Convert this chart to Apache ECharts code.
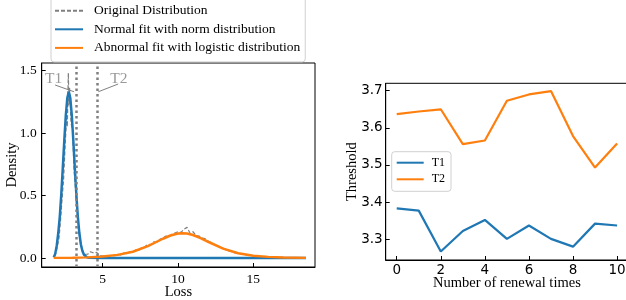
<!DOCTYPE html>
<html>
<head>
<meta charset="utf-8">
<script src="https://cdn.jsdelivr.net/npm/echarts@6/dist/echarts.min.js"></script>
<style>
  html, body { margin: 0; padding: 0; background: #fff; }
  #chart { width: 626px; height: 300px; }
</style>
</head>
<body>
<div id="chart"></div>
<script>
// left panel: loss distributions
var origX = [1.8, 1.9, 2.0, 2.1, 2.2, 2.3, 2.4, 2.5, 2.6, 2.65, 2.72, 2.76, 2.8, 2.9, 3.0, 3.1, 3.2, 3.3, 3.4, 3.5, 3.6, 3.7, 3.8, 3.9, 4.0,
  4.2, 4.4, 4.6, 4.8, 5.0, 5.2, 5.4, 5.6, 5.8, 6.0, 6.2, 6.4, 6.6, 6.8, 7.0, 7.2, 7.4, 7.6, 7.8, 8.0, 8.2, 8.4, 8.6, 8.8, 9.0,
  9.2, 9.4, 9.6, 9.8, 10.0, 10.2, 10.4, 10.6, 10.8, 11.0, 11.2, 11.4, 11.6, 11.8, 12.0, 12.2, 12.4, 12.6, 12.8, 13.0, 13.2,
  13.4, 13.6, 13.8, 14.0, 14.2, 14.4, 14.6, 14.8, 15.0, 15.5, 16.0, 16.5, 17.0, 18.0, 18.5];
var origY = [0.01, 0.04, 0.10, 0.16, 0.30, 0.47, 0.62, 0.88, 1.12, 1.05, 1.48, 1.22, 1.36, 1.08, 1.02, 0.70, 0.55, 0.36, 0.22, 0.13, 0.07, 0.05, 0.03, 0.045, 0.03,
  0.05, 0.04, 0.045, 0.02, 0.015, 0.02, 0.012, 0.02, 0.018, 0.03, 0.025, 0.04, 0.035, 0.05, 0.045, 0.065, 0.06, 0.085, 0.09, 0.11, 0.105, 0.13, 0.125, 0.15, 0.16,
  0.175, 0.17, 0.19, 0.2, 0.21, 0.205, 0.23, 0.245, 0.2, 0.21, 0.18, 0.175, 0.16, 0.155, 0.135, 0.125, 0.11, 0.1, 0.085, 0.08, 0.065,
  0.055, 0.05, 0.04, 0.04, 0.03, 0.032, 0.02, 0.025, 0.015, 0.012, 0.008, 0.006, 0.004, 0.002, 0.001];

var normX = [1.75, 1.85, 1.95, 2.05, 2.15, 2.25, 2.35, 2.45, 2.55, 2.65, 2.75, 2.85, 2.95, 3.05, 3.15, 3.25, 3.35, 3.45, 3.55, 3.65, 3.75, 3.85, 3.95, 4.1, 5, 10, 15, 18.5];
var normY = [0.005, 0.035, 0.1, 0.2, 0.33, 0.51, 0.72, 0.94, 1.14, 1.28, 1.33, 1.28, 1.14, 0.94, 0.72, 0.51, 0.33, 0.2, 0.11, 0.058, 0.028, 0.012, 0.005, 0.001, 0, 0, 0, 0];

var logiX = [1.75, 3, 4, 5, 6, 7, 8, 9, 9.5, 10, 10.3, 10.6, 11, 11.5, 12, 13, 14, 15, 16, 17, 18.5];
var logiY = [0.001, 0.002, 0.005, 0.012, 0.025, 0.05, 0.095, 0.154, 0.18, 0.196, 0.198, 0.196, 0.184, 0.159, 0.13, 0.075, 0.038, 0.018, 0.009, 0.004, 0.001];

var thresholdNames = ['T1', 'T2'];
var thresholdLoss = [3.27, 4.67];
var labelPos = [[1.74, 1.436], [6.08, 1.436]];
var pointerFrom = [[1.84, 1.384], [6.03, 1.392]];
var pointerTo = [[3.1, 1.33], [4.71, 1.33]];

// right panel: thresholds per renewal
var renewalTimes = [0, 1, 2, 3, 4, 5, 6, 7, 8, 9, 10];
var t1Values = [3.383, 3.377, 3.267, 3.322, 3.352, 3.301, 3.337, 3.301, 3.280, 3.342, 3.337];
var t2Values = [3.637, 3.644, 3.650, 3.556, 3.566, 3.673, 3.690, 3.699, 3.578, 3.493, 3.558];

var lossTicks = [5, 10, 15];
var densityTicks = [0, 0.5, 1.0, 1.5];
var renewalTicks = [0, 2, 4, 6, 8, 10];
var thresholdTicks = [3.3, 3.4, 3.5, 3.6, 3.7];

var SERIF = 'Liberation Serif';
var SANS = 'DejaVu Sans';
var BLUE = '#1f77b4', ORANGE = '#ff7f0e', GREY = '#808080';

function zip(xs, ys) {
  return xs.map(function (x, i) { return [x, ys[i]]; });
}

function valueAxis(grid, o) {
  return {
    type: 'value', gridIndex: grid, min: o.min, max: o.max,
    name: o.name, nameLocation: 'middle', nameGap: o.gap, nameMoveOverlap: false,
    nameTextStyle: { fontFamily: SERIF, fontSize: 14.5, color: '#000' },
    axisLine: { show: true, onZero: false, lineStyle: { color: '#000', width: 1 } },
    axisTick: { show: true, inside: true, length: 4, customValues: o.ticks, lineStyle: { color: '#000' } },
    axisLabel: {
      customValues: o.ticks, margin: o.margin, color: '#000',
      fontFamily: o.font, fontSize: o.size,
      formatter: o.fmt
    },
    splitLine: { show: false }
  };
}

var chart = echarts.init(document.getElementById('chart'));

var series = [
  {
    name: 'Original Distribution', type: 'line', xAxisIndex: 0, yAxisIndex: 0,
    data: zip(origX, origY), symbol: 'none', z: 2,
    lineStyle: { color: GREY, width: 1.2, type: [4, 2] }, itemStyle: { color: GREY },
    markLine: {
      silent: true, symbol: 'none', label: { show: false },
      lineStyle: { color: GREY, width: 2.5, type: [2.5, 3] },
      data: thresholdLoss.map(function (v) { return { xAxis: v }; })
    }
  },
  {
    name: 'Normal fit with norm distribution', type: 'line', xAxisIndex: 0, yAxisIndex: 0,
    data: zip(normX, normY), symbol: 'none', z: 3,
    lineStyle: { color: BLUE, width: 2.5 }, itemStyle: { color: BLUE }
  },
  {
    name: 'Abnormal fit with logistic distribution', type: 'line', xAxisIndex: 0, yAxisIndex: 0,
    data: zip(logiX, logiY), symbol: 'none', z: 4,
    lineStyle: { color: ORANGE, width: 2.5 }, itemStyle: { color: ORANGE }
  }
];

// pointer lines + labels for T1 / T2
thresholdNames.forEach(function (n, i) {
  series.push({
    type: 'line', xAxisIndex: 0, yAxisIndex: 0, symbol: 'none', silent: true,
    data: [pointerFrom[i], pointerTo[i]],
    lineStyle: { color: GREY, width: 1 }
  });
});
series.push({
  type: 'scatter', xAxisIndex: 0, yAxisIndex: 0, symbolSize: 1, silent: true,
  itemStyle: { color: 'rgba(0,0,0,0)' },
  label: { show: true, position: 'inside', formatter: '{b}', fontFamily: SERIF, fontSize: 15.5, color: GREY },
  data: thresholdNames.map(function (n, i) { return { name: n, value: labelPos[i] }; })
});

series.push({
  name: 'T1', type: 'line', xAxisIndex: 1, yAxisIndex: 1, symbol: 'none',
  data: zip(renewalTimes, t1Values), lineStyle: { color: BLUE, width: 2.2 }, itemStyle: { color: BLUE }
});
series.push({
  name: 'T2', type: 'line', xAxisIndex: 1, yAxisIndex: 1, symbol: 'none',
  data: zip(renewalTimes, t2Values), lineStyle: { color: ORANGE, width: 2.2 }, itemStyle: { color: ORANGE }
});

var option = {
  animation: false,
  backgroundColor: '#fff',
  grid: [
    { left: 41.7, top: 63, width: 273.3, height: 204, show: true, borderColor: '#000', borderWidth: 1, outerBoundsMode: 'none' },
    { left: 385.7, top: 83.3, width: 242.4, height: 176.7, show: true, borderColor: '#000', borderWidth: 1, outerBoundsMode: 'none' }
  ],
  legend: [
    {
      data: ['Original Distribution', 'Normal fit with norm distribution', 'Abnormal fit with logistic distribution'],
      orient: 'vertical', left: 51, top: -3.3,
      padding: [7, 5, 7, 3], itemGap: 4.6, itemWidth: 28, itemHeight: 12,
      itemStyle: { opacity: 0 },
      borderColor: '#d0d0d0', borderWidth: 1, borderRadius: 3, backgroundColor: '#fff',
      textStyle: { fontFamily: SERIF, fontSize: 13.5, color: '#000', padding: [0, 0, 0, 6] }
    },
    {
      data: ['T1', 'T2'],
      orient: 'vertical', left: 391.7, top: 151.7,
      padding: [5, 6, 6, 4], itemGap: 4.6, itemWidth: 27, itemHeight: 10,
      itemStyle: { opacity: 0 },
      borderColor: '#d0d0d0', borderWidth: 1, borderRadius: 3, backgroundColor: '#fff',
      textStyle: { fontFamily: SERIF, fontSize: 12, color: '#000', padding: [0, 0, 0, 3] }
    }
  ],
  xAxis: [
    valueAxis(0, { min: 0.95, max: 19.1, name: 'Loss', gap: 17.5, ticks: lossTicks, margin: 5, font: SERIF, size: 13.5 }),
    valueAxis(1, { min: -0.5, max: 10.5, name: 'Number of renewal times', gap: 15.5, ticks: renewalTicks, margin: 3, font: SANS, size: 13.5 })
  ],
  yAxis: [
    valueAxis(0, { min: -0.072, max: 1.56, name: 'Density', gap: 22, ticks: densityTicks, margin: 5, font: SERIF, size: 13.5,
      fmt: function (v) { return v.toFixed(1); } }),
    valueAxis(1, { min: 3.244, max: 3.72, name: 'Threshold', gap: 26, ticks: thresholdTicks, margin: 3, font: SANS, size: 13.5,
      fmt: function (v) { return v.toFixed(1); } })
  ],
  series: series
};

chart.setOption(option);
</script>
</body>
</html>
